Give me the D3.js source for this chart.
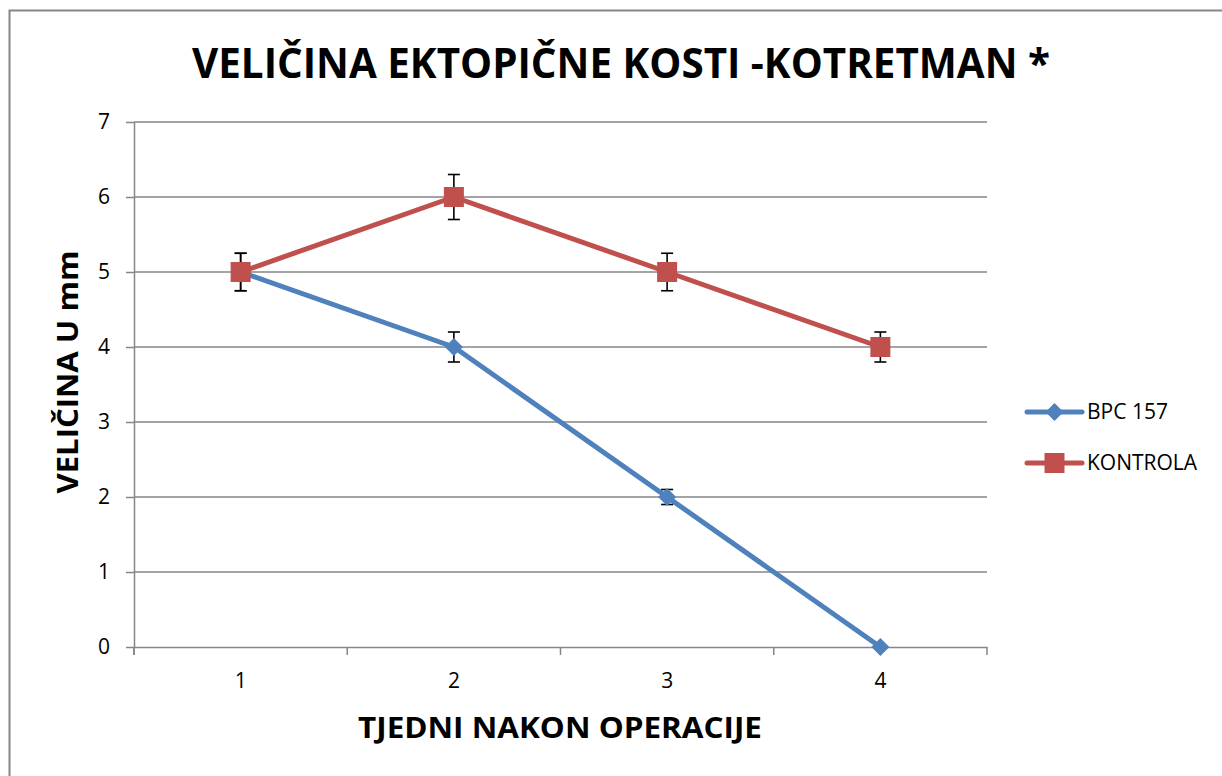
<!DOCTYPE html>
<html>
<head>
<meta charset="utf-8">
<script src="https://cdn.jsdelivr.net/npm/d3@7"></script>
<style>
  html, body { margin: 0; padding: 0; background: #fff; }
  svg { display: block; font-family: "Open Sans", "Liberation Sans", sans-serif; }
</style>
</head>
<body>
<svg id="chart" width="1222" height="776"></svg>
<script>
// Week numbers after surgery
const weeks = ["1", "2", "3", "4"];
// Ectopic bone size (mm) per group, with error bar half-widths
const bpcValues = [5, 4, 2, 0];
const bpcErrors = [0.25, 0.2, 0.1, 0];
const kontrolaValues = [5, 6, 5, 4];
const kontrolaErrors = [0.25, 0.3, 0.25, 0.2];
const yTicks = [0, 1, 2, 3, 4, 5, 6, 7];

const seriesNames = ["BPC 157", "KONTROLA"];
const seriesColors = ["#4F81BD", "#C0504D"];

const svg = d3.select("#chart");
const W = 1222, H = 776;
const plot = { left: 134, right: 987, top: 122, bottom: 647 };
const gridColor = "#868686";
const labelFont = "'Open Sans', sans-serif";

// Outer chart frame
svg.append("rect")
  .attr("x", 9.5).attr("y", 10.5)
  .attr("width", W).attr("height", H)
  .attr("fill", "#fff").attr("stroke", "#868686").attr("stroke-width", 2);

const x = d3.scaleBand().domain(weeks).range([plot.left, plot.right]).paddingInner(0).paddingOuter(0);
const xc = d => x(d) + x.bandwidth() / 2;
const y = d3.scaleLinear().domain([0, 7]).range([plot.bottom, plot.top]);

// Horizontal gridlines
svg.append("g").selectAll("line").data(yTicks.filter(t => t > 0)).join("line")
  .attr("x1", plot.left).attr("x2", plot.right)
  .attr("y1", d => y(d)).attr("y2", d => y(d))
  .attr("stroke", gridColor).attr("stroke-width", 1.5);

// Y axis
const yAxis = svg.append("g")
  .attr("transform", `translate(${plot.left},0)`)
  .attr("font-size", 21).attr("font-family", labelFont)
  .call(d3.axisLeft(y).tickValues(yTicks).tickFormat(d3.format("d"))
    .tickSize(8).tickPadding(16).tickSizeOuter(0));
yAxis.attr("font-size", 21).attr("font-family", labelFont);
yAxis.select(".domain").attr("stroke", gridColor).attr("stroke-width", 1.5);
yAxis.selectAll(".tick line").attr("stroke", gridColor).attr("stroke-width", 1.5);
yAxis.selectAll(".tick text").attr("fill", "#000");

// X axis baseline with tick marks on category boundaries
const xAxis = svg.append("g").attr("transform", `translate(0,${plot.bottom})`)
  .call(d3.axisBottom(x).tickSize(0).tickPadding(26).tickSizeOuter(0));
xAxis.attr("font-size", 21).attr("font-family", labelFont);
xAxis.select(".domain").attr("stroke", gridColor).attr("stroke-width", 1.5);
xAxis.selectAll(".tick text").attr("fill", "#000");
const boundaries = weeks.map(d => x(d)).concat([x(weeks[weeks.length - 1]) + x.bandwidth()]);
xAxis.selectAll("line.boundary").data(boundaries).join("line")
  .attr("class", "boundary")
  .attr("x1", d => d).attr("x2", d => d)
  .attr("y1", 0).attr("y2", 8)
  .attr("stroke", gridColor).attr("stroke-width", 1.5);
// extend the y-axis line down to the tick length
svg.append("line")
  .attr("x1", plot.left).attr("x2", plot.left)
  .attr("y1", plot.bottom).attr("y2", plot.bottom + 8)
  .attr("stroke", gridColor).attr("stroke-width", 1.5);

const series = [
  { name: seriesNames[0], color: seriesColors[0], values: bpcValues, errors: bpcErrors, marker: "diamond" },
  { name: seriesNames[1], color: seriesColors[1], values: kontrolaValues, errors: kontrolaErrors, marker: "square" }
];

const line = d3.line().x(d => xc(d.week)).y(d => y(d.value));

function drawMarker(g, type, color, cx, cy) {
  if (type === "square") {
    g.append("rect")
      .attr("x", cx - 10).attr("y", cy - 10)
      .attr("width", 20).attr("height", 20)
      .attr("fill", color);
  } else {
    const r = 9;
    g.append("path")
      .attr("d", `M${cx},${cy - r}L${cx + r},${cy}L${cx},${cy + r}L${cx - r},${cy}Z`)
      .attr("fill", color);
  }
}

series.forEach(s => {
  const pts = weeks.map((w, i) => ({ week: w, value: s.values[i], err: s.errors[i] }));
  const g = svg.append("g");
  g.append("path").datum(pts)
    .attr("d", line)
    .attr("fill", "none")
    .attr("stroke", s.color)
    .attr("stroke-width", 5)
    .attr("stroke-linejoin", "round");
  // Error bars
  pts.filter(p => p.err > 0).forEach(p => {
    const cx = xc(p.week);
    const eg = g.append("g").attr("stroke", "#000").attr("stroke-width", 1.6);
    eg.append("line").attr("x1", cx).attr("x2", cx).attr("y1", y(p.value + p.err)).attr("y2", y(p.value - p.err));
    eg.append("line").attr("x1", cx - 6).attr("x2", cx + 6).attr("y1", y(p.value + p.err)).attr("y2", y(p.value + p.err));
    eg.append("line").attr("x1", cx - 6).attr("x2", cx + 6).attr("y1", y(p.value - p.err)).attr("y2", y(p.value - p.err));
  });
  pts.forEach(p => drawMarker(g, s.marker, s.color, xc(p.week), y(p.value)));
});

// Legend
const legendY = [412, 463];
series.forEach((s, i) => {
  const g = svg.append("g");
  g.append("line")
    .attr("x1", 1027).attr("x2", 1082)
    .attr("y1", legendY[i]).attr("y2", legendY[i])
    .attr("stroke", s.color).attr("stroke-width", 5).attr("stroke-linecap", "round");
  drawMarker(g, s.marker, s.color, 1054.5, legendY[i]);
  g.append("text")
    .attr("x", 1087).attr("y", legendY[i])
    .attr("dy", "0.35em")
    .attr("font-size", 21)
    .attr("fill", "#000")
    .text(s.name);
});

// Title
svg.append("text")
  .attr("x", 621).attr("y", 78)
  .attr("text-anchor", "middle")
  .attr("font-size", 42).attr("font-weight", "bold")
  .attr("textLength", 858).attr("lengthAdjust", "spacingAndGlyphs")
  .attr("fill", "#000")
  .text("VELIČINA EKTOPIČNE KOSTI -KOTRETMAN *");

// X axis title
svg.append("text")
  .attr("x", 560).attr("y", 738)
  .attr("text-anchor", "middle")
  .attr("font-size", 28).attr("font-weight", "bold")
  .attr("textLength", 404).attr("lengthAdjust", "spacingAndGlyphs")
  .attr("fill", "#000")
  .text("TJEDNI NAKON OPERACIJE");

// Y axis title
svg.append("text")
  .attr("transform", "translate(78,372) rotate(-90)")
  .attr("text-anchor", "middle")
  .attr("font-size", 28).attr("font-weight", "bold")
  .attr("textLength", 243).attr("lengthAdjust", "spacingAndGlyphs")
  .attr("fill", "#000")
  .text("VELIČINA U mm");
</script>
</body>
</html>
